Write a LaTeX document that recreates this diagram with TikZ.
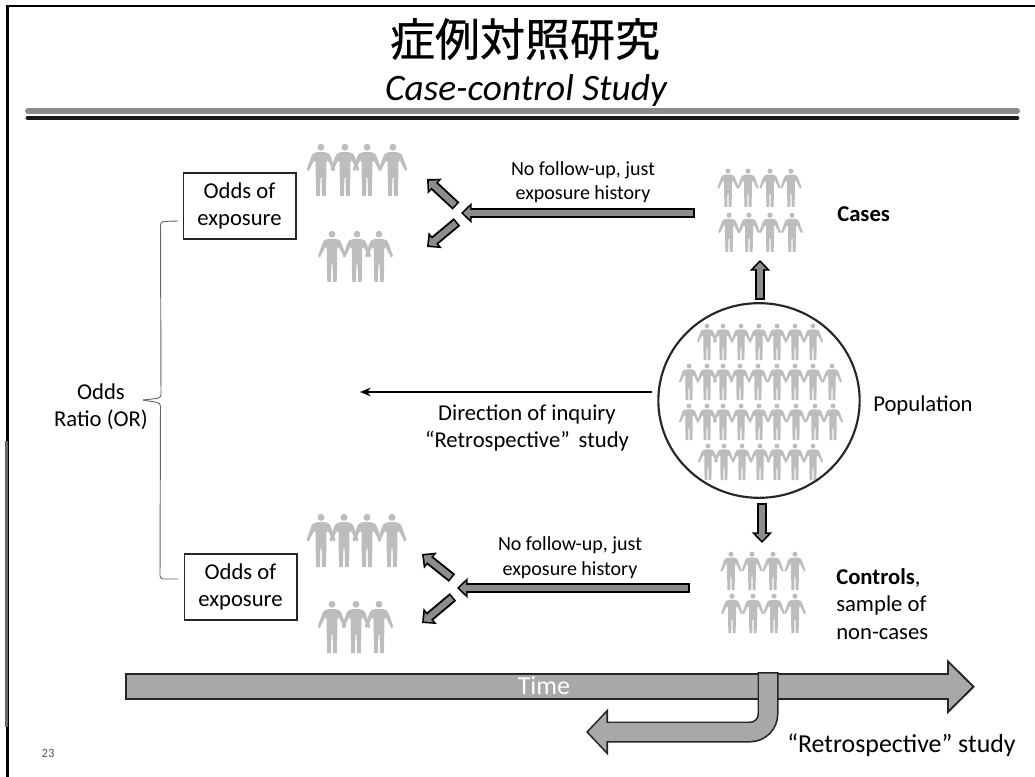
\documentclass[tikz,border=0pt]{standalone}
\usepackage{fontspec}
\setmainfont{Carlito}
\newfontfamily\cjkjp[FakeBold=0.6]{Noto Sans CJK JP}
\usetikzlibrary{arrows.meta,shapes.geometric}
\definecolor{figgray}{gray}{0.74}
\definecolor{arrowgray}{gray}{0.55}
\definecolor{timegray}{gray}{0.66}
\tikzset{
  x=0.75pt,y=-0.75pt,
  person/.pic={
    \fill[figgray] (0,0.08) circle[radius=0.065];
    \fill[figgray] (-0.07,0.17) -- (0.07,0.17) -- (0.15,0.2) -- (0.18,0.25) -- (0.27,0.5) -- (0.23,0.53) -- (0.13,0.33)
      -- (0.10,0.36) -- (0.10,0.62) -- (0.09,1) -- (0.02,1) -- (0.012,0.66) -- (-0.012,0.66) -- (-0.02,1) -- (-0.09,1)
      -- (-0.10,0.62) -- (-0.10,0.36) -- (-0.13,0.33) -- (-0.23,0.53) -- (-0.27,0.5) -- (-0.18,0.25) -- (-0.15,0.2) -- cycle;
  },
  smallarrow/.style={line width=7.5pt,draw=black,-{Triangle[length=8pt,width=15pt]},
    postaction={draw=arrowgray,line width=4.6pt,-{Triangle[length=5pt,width=9.4pt]},shorten >=1.8pt,shorten <=1.2pt}},
  timearrow/.style={line width=20.5pt,draw=black!85,-{Triangle[length=21pt,width=40pt]},
    postaction={draw=timegray,line width=17.5pt,-{Triangle[length=17.3pt,width=33pt]},shorten >=2.2pt,shorten <=1.5pt}},
  retroarrow/.style={rounded corners=13.5pt,line width=15.75pt,draw=black!85,-{Triangle[length=16.5pt,width=34pt]},
    postaction={draw=timegray,line width=13.3pt,-{Triangle[length=13.6pt,width=28pt]},shorten >=1.7pt,shorten <=1.2pt}},
  thinarrow/.style={line width=0.8pt,-{Stealth[length=8pt,width=6.5pt]}},
  bracketline/.style={draw=black!60,line width=0.7pt},
  oddsbox/.style={draw=black!85,line width=1pt,minimum width=84.5pt,minimum height=49.5pt,inner sep=0pt,align=center,
    font=\fontsize{17}{20.6}\selectfont},
  label/.style={inner sep=0pt,align=center,font=\fontsize{17}{20.6}\selectfont},
  leftlabel/.style={inner sep=0pt,align=left,anchor=west,font=\fontsize{17}{20.6}\selectfont},
  smalllabel/.style={inner sep=0pt,align=center,font=\fontsize{15}{18.4}\selectfont},
}
\newcommand{\peoplerow}[3]{\foreach \px in {#3} \pic[scale=#2] at (\px,#1) {person};}
\begin{document}
\begin{tikzpicture}
\useasboundingbox (0,0) rectangle (1035,777);
\fill[white] (0,0) rectangle (1035,777);
% frame
\coordinate (frameTL) at (7.2,6);
\coordinate (frameTR) at (1035,6);
\coordinate (frameBL) at (7.2,777);
\coordinate (frameGa) at (6.8,441);
\coordinate (frameGb) at (6.8,727);
\draw[line width=2pt,black] (frameBL) -- (frameTL) -- (frameTR);
\draw[line width=2pt,black!60] (frameGa) -- (frameGb);
% title
\node[inner sep=0pt] (title) at (525,39) {\fontsize{33.75}{36}\selectfont\cjkjp 症例対照研究};
\node[inner sep=0pt] (subtitle) at (526,91) {\fontsize{28}{30}\selectfont\itshape Case-control Study};
\coordinate (ruleL) at (28,111);
\coordinate (ruleR) at (1017,111);
\coordinate (ruleLb) at (28,118);
\coordinate (ruleRb) at (1017,118);
\draw[line width=4.5pt,black!45,line cap=round] (ruleL) -- (ruleR);
\draw[line width=3.6pt,black!90,line cap=round] (ruleLb) -- (ruleRb);
% people
\peoplerow{143}{53}{321,345,367,393}
\peoplerow{230}{52}{332,357,379}
\peoplerow{513}{54}{321,344,367,392}
\peoplerow{600}{53}{332,356,379}
\peoplerow{168}{39}{728,748,770,791}
\peoplerow{212}{40}{729,749,770,792}
\peoplerow{551}{39}{731,752,773,795}
\peoplerow{593}{40}{732,753,774,795}
\peoplerow{323}{37}{707,723,741,759,777,795,813}
\peoplerow{363}{37}{689,707,723,740,758,777,795,813,832}
\peoplerow{403}{37}{689,707,723,741,759,777,796,815,833}
\peoplerow{443}{37}{708,724,742,760,777,795,813}
% population
\node[draw=black!85,line width=1.6pt,ellipse,minimum width=151pt,minimum height=146pt,inner sep=0pt] (population) at (759,400.5) {};
\node[leftlabel] (poplabel) at (873,405) {Population};
% boxes
\node[oddsbox] (oddsA) at (239.5,206) {Odds of\\exposure};
\node[oddsbox] (oddsB) at (240.5,587) {Odds of\\exposure};
% bracket
\node[label] (oddsratio) at (101,406.5) {Odds\\Ratio (OR)};
\coordinate (brA) at (178,221);
\coordinate (brAc) at (160.5,221.5);
\coordinate (brMa) at (161,398);
\coordinate (brTip) at (143,400);
\coordinate (brMb) at (160.5,403);
\coordinate (brBc) at (160,579);
\coordinate (brB) at (178,579);
\draw[bracketline,rounded corners=2.5pt] (brA) -- (brAc) -- (brMa) -- (brTip);
\draw[bracketline,rounded corners=2.5pt] (brTip) -- (brMb) -- (brBc) -- (brB);
% upper arrows
\coordinate (ua0) at (695,213);
\coordinate (ua1) at (461,213);
\coordinate (ua2) at (456,206);
\coordinate (ua3) at (427,179);
\coordinate (ua4) at (457,222);
\coordinate (ua5) at (427,247);
\draw[smallarrow] (ua0) -- (ua1);
\draw[smallarrow] (ua2) -- (ua3);
\draw[smallarrow] (ua4) -- (ua5);
\node[smalllabel] (noteA) at (583,182) {No follow-up, just\\exposure history};
% lower arrows
\coordinate (la0) at (690,588);
\coordinate (la1) at (457,588);
\coordinate (la2) at (452,578);
\coordinate (la3) at (422,554);
\coordinate (la4) at (453,597);
\coordinate (la5) at (422,623);
\draw[smallarrow] (la0) -- (la1);
\draw[smallarrow] (la2) -- (la3);
\draw[smallarrow] (la4) -- (la5);
\node[smalllabel] (noteB) at (570,557.5) {No follow-up, just\\exposure history};
% vertical arrows
\coordinate (casesend) at (760,260);
\coordinate (casesstart) at (760,300);
\coordinate (ctrlstart) at (762,503);
\coordinate (ctrlend) at (762,543);
\draw[smallarrow] (casesstart) -- (casesend);
\draw[smallarrow] (ctrlstart) -- (ctrlend);
\node[leftlabel] (cases) at (837,214) {\textbf{Cases}};
\node[leftlabel] (controls) at (836,604) {\textbf{Controls},\\sample of\\non-cases};
% direction
\coordinate (dirstart) at (652,392);
\coordinate (dirend) at (360,392);
\draw[thinarrow] (dirstart) -- (dirend);
\node[label] (dirlabel) at (527,428) {Direction of inquiry\\“Retrospective” \,study};
% time
\coordinate (timestart) at (125,686.7);
\coordinate (timeend) at (975,686.7);
\coordinate (retrostart) at (768,672);
\coordinate (retrocorner) at (768,732);
\coordinate (retroend) at (586,732);
\draw[timearrow] (timestart) -- (timeend);
\draw[retroarrow] (retrostart) -- (retrocorner) -- (retroend);
\node[inner sep=0pt,text=white,font=\fontsize{19.5}{22}\selectfont] (timelabel) at (544,686) {Time};
\node[inner sep=0pt,anchor=west,font=\fontsize{19.4}{22}\selectfont] (retrolabel) at (787,745) {“Retrospective” study};
\node[inner sep=0pt,text=black!65,font=\fontsize{9.5}{11}\selectfont] (pagenum) at (48,753) {23};
\end{tikzpicture}
\end{document}
